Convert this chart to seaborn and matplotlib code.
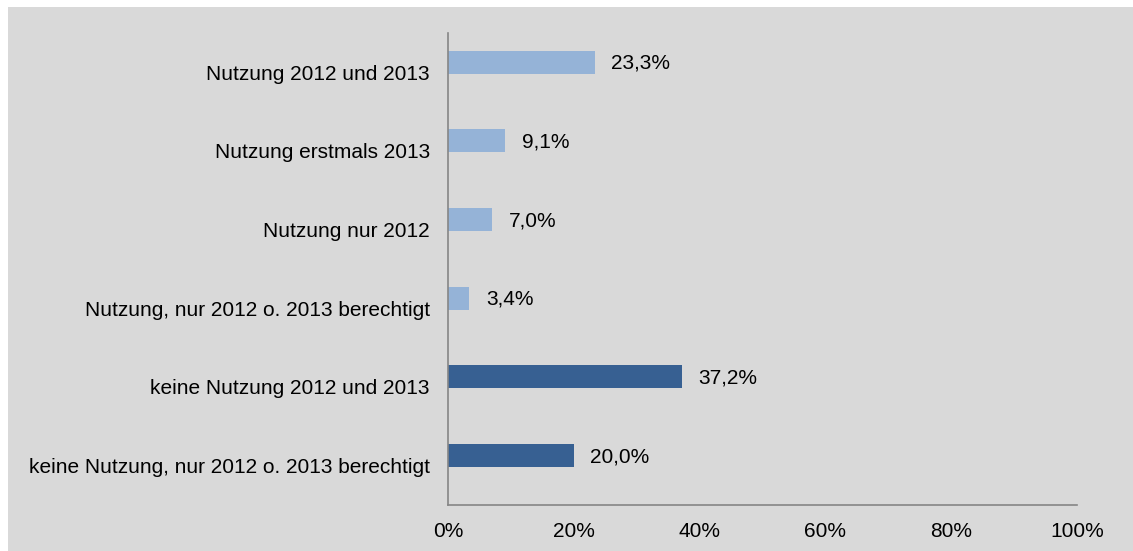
import matplotlib
matplotlib.use("Agg")
import matplotlib.pyplot as plt
import matplotlib.transforms as mtransforms
from matplotlib.patches import Rectangle
import seaborn as sns
import pandas as pd

categories = [
    "Nutzung 2012 und 2013",
    "Nutzung erstmals 2013",
    "Nutzung nur 2012",
    "Nutzung, nur 2012 o. 2013 berechtigt",
    "keine Nutzung 2012 und 2013",
    "keine Nutzung, nur 2012 o. 2013 berechtigt",
]
values = [23.3, 9.1, 7.0, 3.4, 37.2, 20.0]
groups = ["Nutzung", "Nutzung", "Nutzung", "Nutzung", "keine Nutzung", "keine Nutzung"]
value_labels = ["23,3%", "9,1%", "7,0%", "3,4%", "37,2%", "20,0%"]
x_ticks = [0, 20, 40, 60, 80, 100]
x_tick_labels = ["0%", "20%", "40%", "60%", "80%", "100%"]

palette = {"Nutzung": "#95b3d7", "keine Nutzung": "#376092"}
bg = "#d9d9d9"

sns.set_theme(style="white")
plt.rcParams["font.family"] = ["Liberation Sans", "DejaVu Sans"]

df = pd.DataFrame({"cat": categories, "val": values, "grp": groups})

W, H = 1133, 551
fig = plt.figure(figsize=(W / 100, H / 100), dpi=100, facecolor="white")
fig.patches.append(Rectangle((8 / W, 0), 1 - 8 / W, 1 - 7 / H,
                             transform=fig.transFigure, facecolor=bg,
                             edgecolor="none", zorder=-10))
ax = fig.add_axes([448 / W, 1 - 505 / H, (1077 - 448) / W, (505 - 33) / H])
ax.set_facecolor(bg)

sns.barplot(data=df, y="cat", x="val", hue="grp", palette=palette,
            dodge=False, width=0.29, order=categories, legend=False, ax=ax,
            saturation=1, linewidth=0, edgecolor="none")

ax.set_xlim(0, 100)
shift = 0.13
ax.set_ylim(len(categories) - 0.5 + shift, -0.5 + shift)
ax.set_xticks(x_ticks)
ax.set_xticklabels(x_tick_labels)
ax.set_xlabel("")
ax.set_ylabel("")

for s in ["top", "right"]:
    ax.spines[s].set_visible(False)
for s in ["left", "bottom"]:
    ax.spines[s].set_visible(True)
    ax.spines[s].set_color("#868686")
    ax.spines[s].set_linewidth(1.2)

ax.tick_params(axis="x", length=0, pad=12, labelsize=15, labelcolor="black")
ax.tick_params(axis="y", length=0, pad=13, labelsize=15, labelcolor="black")

# move category labels down to band centres
offset = mtransforms.ScaledTranslation(0, -shift * (505 - 33) / 6 / 100, fig.dpi_scale_trans)
for lab in ax.get_yticklabels():
    lab.set_transform(lab.get_transform() + offset)

for patch in ax.patches:
    w = patch.get_width()
    if w <= 0:
        continue
    yc = patch.get_y() + patch.get_height() / 2
    i = int(round(yc))
    ax.annotate(value_labels[i], xy=(w, yc), xytext=(12, -1),
                textcoords="offset points", va="center", ha="left",
                fontsize=15, color="black")

fig.savefig("out.png", dpi=100, facecolor="white")
